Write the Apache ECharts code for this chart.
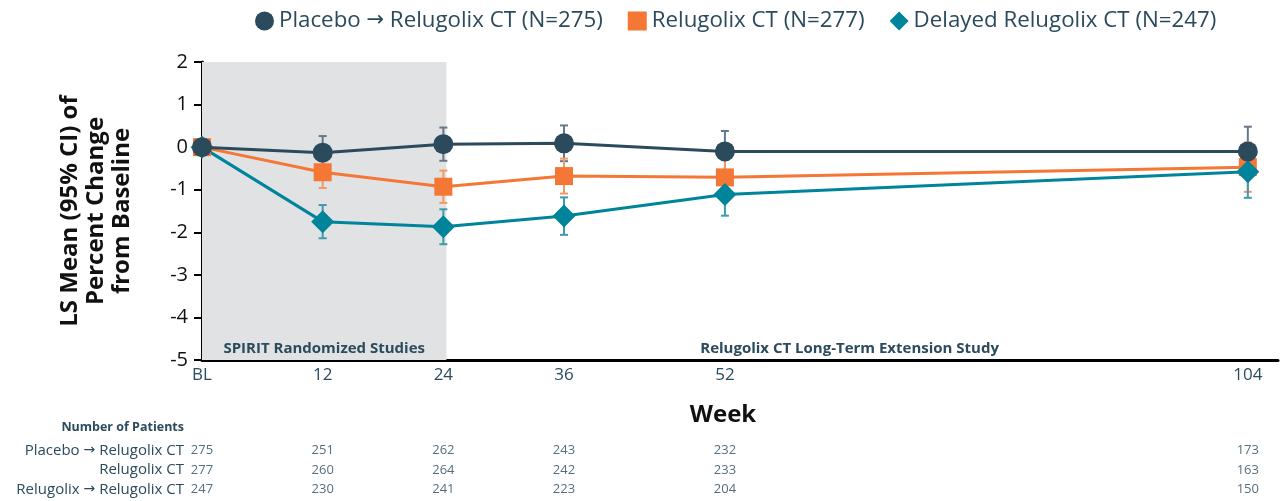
<!DOCTYPE html>
<html>
<head>
<meta charset="utf-8">
<script src="https://cdn.jsdelivr.net/npm/echarts@6/dist/echarts.min.js"></script>
<style>
  html, body { margin: 0; padding: 0; background: #fff; }
  #chart { width: 1286px; height: 501px; }
</style>
</head>
<body>
<div id="chart"></div>
<script>
// weeks on the x axis (BL = 0)
const weeks = [0, 12, 24, 36, 52, 104]
const weekLabels = ['BL', '12', '24', '36', '52', '104']

// LS mean % change and 95% CI half-width
const placeboMean = [0, -0.13, 0.07, 0.09, -0.1, -0.1]
const placeboCI = [0, 0.39, 0.39, 0.42, 0.48, 0.58]
const relugolixMean = [0, -0.59, -0.93, -0.68, -0.71, -0.47]
const relugolixCI = [0, 0.37, 0.38, 0.41, 0.45, 0.58]
const delayedMean = [0, -1.75, -1.87, -1.62, -1.11, -0.58]
const delayedCI = [0, 0.39, 0.41, 0.44, 0.5, 0.61]

// number of patients table
const rowLabels = ['Placebo \u2192 Relugolix CT', 'Relugolix CT', 'Relugolix \u2192 Relugolix CT']
const placeboN = [275, 251, 262, 243, 232, 173]
const relugolixN = [277, 260, 264, 242, 233, 163]
const delayedN = [247, 230, 241, 223, 204, 150]

const seriesNames = [
  'Placebo \u2192 Relugolix CT (N=275)',
  'Relugolix CT (N=277)',
  'Delayed Relugolix CT (N=247)'
]

const textColor = '#2B4A5C'
const font = 'Open Sans'

const chart = echarts.init(document.getElementById('chart'))

function points(mean) {
  return weeks.map((w, i) => [w, mean[i]])
}

function bars(mean, ci) {
  return weeks
    .map((w, i) => [w, mean[i] - ci[i], mean[i] + ci[i]])
    .filter((d, i) => ci[i] > 0)
}

// the arrow glyph of Open Sans is tiny, draw it with DejaVu
function arrowText(s) {
  return s.replace('\u2192', '{a|\u2192}')
}

function errorBar(color, mean, ci) {
  return {
    type: 'custom',
    xAxisIndex: 0,
    yAxisIndex: 0,
    z: 1,
    silent: true,
    data: bars(mean, ci),
    encode: { x: 0, y: [1, 2] },
    renderItem(params, api) {
      const x = api.value(0)
      const lo = api.coord([x, api.value(1)])
      const hi = api.coord([x, api.value(2)])
      const w = 4
      const style = { stroke: color, lineWidth: 2 }
      return {
        type: 'group',
        children: [
          { type: 'line', shape: { x1: lo[0], y1: lo[1], x2: hi[0], y2: hi[1] }, style },
          { type: 'line', shape: { x1: hi[0] - w, y1: hi[1], x2: hi[0] + w, y2: hi[1] }, style },
          { type: 'line', shape: { x1: lo[0] - w, y1: lo[1], x2: lo[0] + w, y2: lo[1] }, style }
        ]
      }
    }
  }
}

function countRow(label, counts) {
  return {
    type: 'scatter',
    xAxisIndex: 1,
    yAxisIndex: 1,
    symbolSize: 0,
    silent: true,
    data: weeks.map((w, i) => [w, label, counts[i]]),
    label: {
      show: true,
      position: 'inside',
      formatter: p => p.value[2],
      color: textColor,
      fontFamily: font,
      fontSize: 13
    }
  }
}

const option = {
  animation: false,
  textStyle: { fontFamily: font },
  legend: {
    top: 5,
    left: 250,
    itemWidth: 19,
    itemHeight: 19,
    itemGap: 25,
    formatter: arrowText,
    textStyle: {
      fontSize: 22.3,
      color: textColor,
      fontFamily: font,
      rich: { a: { fontFamily: 'DejaVu Sans', fontSize: 21, color: textColor } }
    },
    data: [
      { name: seriesNames[0], icon: 'circle' },
      { name: seriesNames[1], icon: 'rect' },
      { name: seriesNames[2], icon: 'diamond' }
    ]
  },
  graphic: [
    {
      type: 'text',
      right: 1286 - 184,
      top: 421,
      style: {
        text: 'Number of Patients',
        fill: textColor,
        font: 'bold 12.5px "Open Sans"'
      }
    }
  ],
  grid: [
    { left: 202, right: 8, top: 62, bottom: 141 },
    { left: 202, right: 8, top: 441, height: 58 }
  ],
  xAxis: [
    {
      type: 'value',
      gridIndex: 0,
      min: 0,
      max: 107,
      name: 'Week',
      nameLocation: 'middle',
      nameGap: 43,
      nameTextStyle: { fontSize: 24, fontWeight: 'bold', color: '#111', padding: [0, 34, 0, 0] },
      axisLine: { onZero: false, lineStyle: { color: '#000', width: 3 } },
      axisTick: { show: false },
      splitLine: { show: false },
      axisLabel: {
        customValues: weeks,
        formatter: v => weekLabels[weeks.indexOf(v)],
        color: textColor,
        fontSize: 17,
        margin: 7
      }
    },
    {
      type: 'value',
      gridIndex: 1,
      min: 0,
      max: 107,
      show: false
    }
  ],
  yAxis: [
    {
      type: 'value',
      gridIndex: 0,
      min: -5,
      max: 2,
      interval: 1,
      name: 'LS Mean (95% CI) of\nPercent Change\nfrom Baseline',
      nameLocation: 'middle',
      nameRotate: 90,
      nameGap: 67,
      nameTextStyle: { fontSize: 24, fontWeight: 'bold', color: '#111', lineHeight: 26 },
      axisLine: { show: true, onZero: false, lineStyle: { color: '#000', width: 3 } },
      axisTick: { show: true, length: 8, lineStyle: { color: '#000', width: 2 } },
      splitLine: { show: false },
      axisLabel: { color: '#111', fontSize: 20, margin: 14 }
    },
    {
      type: 'category',
      gridIndex: 1,
      inverse: true,
      data: rowLabels,
      axisLine: { show: false },
      axisTick: { show: false },
      axisLabel: {
        interval: 0,
        color: textColor,
        fontSize: 15,
        margin: 18,
        formatter: arrowText,
        rich: { a: { fontFamily: 'DejaVu Sans', fontSize: 14, color: textColor } }
      }
    }
  ],
  series: [
    errorBar('#64788A', placeboMean, placeboCI),
    errorBar('#F29A66', relugolixMean, relugolixCI),
    errorBar('#3E9AAE', delayedMean, delayedCI),
    {
      name: seriesNames[0],
      type: 'line',
      xAxisIndex: 0,
      yAxisIndex: 0,
      z: 4,
      clip: false,
      data: points(placeboMean),
      symbol: 'circle',
      symbolSize: 20,
      itemStyle: { color: '#2B4A5C' },
      lineStyle: { color: '#2B4A5C', width: 3 },
      markArea: {
        silent: true,
        label: {
          position: 'insideBottom',
          distance: 4,
          color: textColor,
          fontSize: 15,
          fontWeight: 'bold'
        },
        data: [
          [
            { name: 'SPIRIT Randomized Studies', coord: [0, 2.13], itemStyle: { color: '#E1E2E4' } },
            { coord: [24.3, -5] }
          ],
          [
            { name: 'Relugolix CT Long-Term Extension Study', coord: [24.3, 2.13], itemStyle: { color: 'rgba(0,0,0,0)' } },
            { coord: [104.5, -5] }
          ]
        ]
      }
    },
    {
      name: seriesNames[1],
      type: 'line',
      xAxisIndex: 0,
      yAxisIndex: 0,
      z: 3,
      data: points(relugolixMean),
      symbol: 'rect',
      symbolSize: 18,
      itemStyle: { color: '#F47735' },
      lineStyle: { color: '#F47735', width: 3 }
    },
    {
      name: seriesNames[2],
      type: 'line',
      xAxisIndex: 0,
      yAxisIndex: 0,
      z: 3,
      data: points(delayedMean),
      symbol: 'diamond',
      symbolSize: 23,
      itemStyle: { color: '#00849B' },
      lineStyle: { color: '#00849B', width: 3 }
    },
    countRow(rowLabels[0], placeboN),
    countRow(rowLabels[1], relugolixN),
    countRow(rowLabels[2], delayedN)
  ]
}

chart.setOption(option)
</script>
</body>
</html>
